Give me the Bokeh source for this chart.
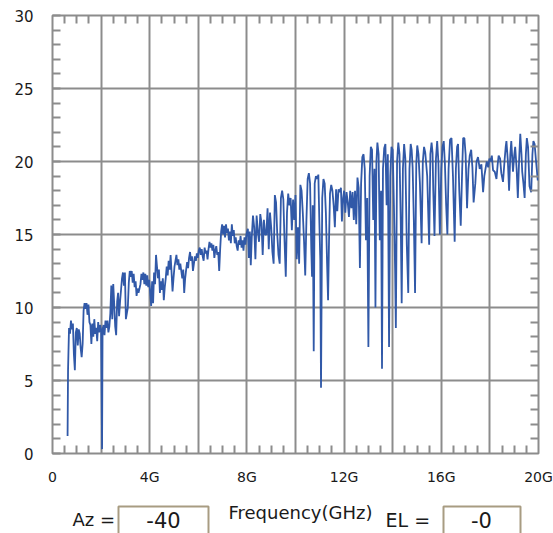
from bokeh.plotting import figure
from bokeh.models import Range1d, SingleIntervalTicker, FixedTicker, LinearAxis
from bokeh.layouts import column
from bokeh.embed import file_html
from bokeh.resources import INLINE
from bokeh.core.properties import value

# ---------------- data ----------------
freq_a = [0.62, 0.64, 0.68, 0.72, 0.76, 0.80, 0.84, 0.88, 0.92, 0.96, 1.00, 1.04, 1.08,
          1.12, 1.16, 1.20, 1.24, 1.28, 1.32, 1.36, 1.40, 1.44, 1.48, 1.52, 1.56, 1.60,
          1.64, 1.68, 1.72, 1.76, 1.80, 1.84, 1.88, 1.92, 1.96, 2.00, 2.04]
gain_a = [1.2, 5.7, 8.6, 8.2, 9.1, 8.5, 8.9, 6.8, 5.7, 8.3, 8.6, 7.4, 8.5,
          8.2, 7.2, 6.6, 7.5, 9.8, 10.3, 9.9, 10.3, 9.5, 10.2, 9.0, 8.8, 7.5,
          8.9, 8.0, 9.2, 8.2, 8.6, 7.7, 9.0, 8.3, 8.8, 8.4, 0.3]

freq_b = [2.06, 2.10, 2.14, 2.18, 2.22, 2.26, 2.30, 2.34, 2.38, 2.42, 2.46, 2.50, 2.54,
          2.58, 2.62, 2.66, 2.70, 2.74, 2.78, 2.82, 2.86, 2.90, 2.94, 2.98, 3.02, 3.06,
          3.10, 3.14, 3.18, 3.22, 3.26, 3.30, 3.34, 3.38, 3.42, 3.46, 3.50, 3.54, 3.58,
          3.62, 3.66, 3.70, 3.74, 3.78, 3.82, 3.86, 3.90, 3.94, 3.98]
gain_b = [8.5, 8.8, 8.1, 9.1, 8.6, 9.1, 8.3, 8.7, 9.6, 11.5, 9.2, 11.6, 10.2,
          8.7, 8.1, 10.4, 11.0, 9.4, 10.4, 11.2, 12.0, 12.4, 11.5, 12.4, 9.2, 9.6,
          10.0, 11.7, 12.5, 12.1, 12.5, 11.7, 12.3, 11.4, 11.8, 10.8, 11.3, 11.0, 11.3,
          11.6, 12.3, 11.9, 12.4, 11.6, 12.3, 11.5, 12.2, 11.4, 11.9]

freq_c = [4.02, 4.06, 4.10, 4.14, 4.18, 4.22, 4.26, 4.30, 4.34, 4.38, 4.42, 4.46, 4.50,
          4.54, 4.58, 4.62, 4.66, 4.70, 4.74, 4.78, 4.82, 4.86, 4.90, 4.94, 4.98, 5.02,
          5.06, 5.10, 5.14, 5.18, 5.22, 5.26, 5.30, 5.34, 5.38, 5.42, 5.46, 5.50, 5.54,
          5.58, 5.62, 5.66, 5.70, 5.74, 5.78, 5.82, 5.86, 5.90, 5.94, 5.98, 6.02, 6.06,
          6.10, 6.14, 6.18, 6.22, 6.26, 6.30, 6.34, 6.38, 6.42, 6.46, 6.50, 6.54, 6.58,
          6.62, 6.66, 6.70, 6.74, 6.78, 6.82, 6.86, 6.90, 6.94, 6.98]
gain_c = [11.0, 10.1, 11.8, 10.3, 12.4, 11.6, 13.6, 12.8, 12.0, 12.6, 11.0, 11.8, 11.2,
          12.0, 10.5, 11.4, 12.0, 12.8, 12.2, 13.2, 12.6, 13.6, 12.4, 11.1, 12.0, 12.8,
          13.2, 13.6, 12.9, 13.3, 12.6, 13.0, 12.5, 12.0, 12.6, 11.0, 12.0, 12.6, 13.1,
          12.7, 13.4, 13.8, 13.2, 13.5, 12.5, 13.0, 13.5, 13.2, 13.7, 13.4, 13.9, 14.1,
          13.6, 14.0, 13.5, 13.2, 14.1, 13.7, 13.9, 13.3, 14.0, 14.5, 14.1, 14.4, 13.9,
          14.3, 13.4, 13.9, 14.2, 13.6, 13.8, 12.5, 14.0, 15.2, 15.7]

freq_d = [7.02, 7.06, 7.10, 7.14, 7.18, 7.22, 7.26, 7.30, 7.34, 7.38, 7.42, 7.46, 7.50,
          7.54, 7.58, 7.62, 7.66, 7.70, 7.74, 7.78, 7.82, 7.86, 7.90, 7.94, 7.98]
gain_d = [15.0, 15.6, 14.8, 15.7, 15.1, 15.4, 14.6, 15.2, 14.4, 15.7, 14.9, 15.3, 14.4,
          14.8, 14.2, 13.9, 14.6, 14.3, 14.9, 14.1, 14.6, 13.9, 14.8, 14.3, 15.0]

freq_e = [8.04, 8.08, 8.12, 8.16, 8.20, 8.25, 8.30, 8.35, 8.40, 8.45, 8.50, 8.55, 8.60,
          8.65, 8.70, 8.75, 8.80, 8.85, 8.90, 8.95, 9.00, 9.05, 9.10, 9.15, 9.20, 9.25,
          9.30, 9.35, 9.40, 9.45, 9.50, 9.55, 9.60, 9.65, 9.70, 9.75, 9.80, 9.85, 9.90,
          9.95, 10.00, 10.05, 10.10, 10.15, 10.20, 10.25, 10.30, 10.35, 10.40, 10.45,
          10.50, 10.55, 10.60, 10.65, 10.68, 10.71, 10.75, 10.79, 10.84, 10.89, 10.94,
          10.98, 11.02, 11.05]
gain_e = [15.4, 13.4, 15.2, 12.9, 14.8, 16.3, 15.5, 13.3, 16.3, 15.2, 14.5, 16.4, 15.8,
          13.6, 16.0, 15.0, 15.0, 16.8, 14.0, 16.5, 15.5, 13.8, 13.0, 17.7, 17.2, 15.0,
          13.6, 13.0, 17.5, 18.0, 17.4, 14.5, 12.1, 16.5, 17.8, 17.0, 17.5, 15.3, 17.4,
          16.0, 17.7, 13.3, 15.5, 13.0, 18.4, 18.0, 16.5, 14.6, 12.2, 16.0,
          18.8, 19.2, 18.5, 14.0, 12.1, 17.0, 7.0, 18.5, 19.0, 18.8, 19.1,
          16.0, 13.3, 4.5]

freq_f = [11.10, 11.15, 11.20, 11.25, 11.30, 11.34, 11.38, 11.42, 11.47, 11.52, 11.57,
          11.62, 11.67, 11.72, 11.77, 11.82, 11.87, 11.91, 11.96, 12.00, 12.05, 12.10,
          12.15, 12.20, 12.25, 12.30, 12.35, 12.40, 12.45, 12.50, 12.55, 12.60, 12.65,
          12.70, 12.75, 12.80, 12.85, 12.90, 12.95, 13.00]
gain_f = [17.5, 18.8, 18.5, 16.5, 13.0, 10.5, 14.6, 17.8, 18.4, 18.0, 17.0,
          15.5, 18.1, 16.6, 18.1, 17.9, 18.2, 15.9, 17.5, 18.0, 16.5, 17.9,
          17.2, 16.2, 18.0, 16.8, 17.9, 16.0, 18.0, 15.7, 18.9, 18.2, 12.7,
          18.5, 20.3, 20.5, 19.5, 14.6, 17.5, 7.3]

freq_g = [13.05, 13.10, 13.15, 13.20, 13.25, 13.29, 13.33, 13.37, 13.42, 13.47, 13.52,
          13.56, 13.60, 13.65, 13.70, 13.75, 13.80, 13.85, 13.90, 13.95, 14.00, 14.05,
          14.10, 14.13, 14.18, 14.23, 14.28, 14.33, 14.37, 14.42, 14.47, 14.52, 14.58,
          14.64, 14.69, 14.74, 14.78, 14.82, 14.87, 14.92, 14.97, 15.01, 15.06, 15.12,
          15.19, 15.24, 15.29, 15.34, 15.42, 15.50, 15.55, 15.60, 15.64, 15.67, 15.72,
          15.78, 15.83, 15.88, 15.94, 16.00, 16.05, 16.10, 16.15, 16.20, 16.25, 16.30,
          16.36, 16.42, 16.48, 16.55, 16.60, 16.65, 16.69, 16.74, 16.80, 16.86, 16.90,
          16.95, 17.00]
gain_g = [19.0, 21.0, 20.8, 16.0, 19.5, 10.0, 20.0, 21.3, 20.5, 14.6, 18.0,
          5.8, 19.5, 20.9, 21.2, 17.0, 20.5, 7.3, 19.0, 21.0, 20.8, 17.0,
          12.5, 8.6, 20.0, 21.3, 20.5, 16.0, 10.3, 19.5, 21.2, 20.2, 14.3,
          11.0, 19.5, 21.2, 20.8, 19.6, 16.0, 11.0, 19.8, 21.1, 20.5, 18.5,
          14.4, 20.0, 21.0, 20.6, 19.0, 14.3, 20.5, 21.3, 20.6, 18.0, 14.9,
          20.2, 21.4, 20.0, 15.0, 19.5, 21.0, 21.4, 19.8, 17.0, 15.0, 19.5,
          21.5, 21.6, 19.0, 14.5, 19.5, 21.0, 21.2, 18.0, 15.6, 19.5, 21.6,
          21.6, 20.5]

freq_h = [17.06, 17.12, 17.17, 17.23, 17.28, 17.33, 17.40, 17.45, 17.51, 17.58, 17.65,
          17.72, 17.77, 17.81, 17.87, 17.93, 17.98, 18.02, 18.08, 18.13, 18.20, 18.27,
          18.32, 18.36, 18.42, 18.47, 18.54, 18.60, 18.65, 18.68, 18.74, 18.79, 18.84,
          18.88, 18.95, 19.00, 19.04, 19.10, 19.15, 19.20, 19.25, 19.30, 19.33, 19.38,
          19.43, 19.48, 19.52, 19.57, 19.63, 19.70, 19.75, 19.79, 19.84, 19.90, 19.97]
gain_h = [16.8, 19.5, 20.4, 20.8, 19.6, 17.2, 18.5, 20.0, 20.3, 19.5, 19.8,
          17.9, 19.0, 19.4, 20.0, 19.6, 20.2, 20.0, 20.4, 19.4, 19.3, 18.8,
          19.8, 20.4, 20.2, 19.2, 18.6, 20.0, 21.0, 21.4, 20.0, 18.0, 20.5,
          21.4, 19.3, 20.4, 21.0, 19.5, 17.5, 20.0, 21.9, 20.5, 19.3, 18.5,
          17.5, 20.5, 21.6, 21.0, 18.3, 17.9, 20.5, 21.4, 21.2, 20.0, 18.7]

freq_ghz = freq_a + freq_b + freq_c + freq_d + freq_e + freq_f + freq_g + freq_h
gain_db = gain_a + gain_b + gain_c + gain_d + gain_e + gain_f + gain_g + gain_h
assert len(freq_ghz) == len(gain_db)

x_tick_values = [0, 4, 8, 12, 16, 20]
x_tick_labels = ["0", "4G", "8G", "12G", "16G", "20G"]
x_minor_ticks = [0.5 * i for i in range(1, 40) if i % 4 != 0]
y_minor_ticks = [i for i in range(1, 30) if i % 5 != 0]

control_labels = ["Az =", "Frequency(GHz)", "EL ="]
control_values = ["-40", "-0"]

# ---------------- styling ----------------
GRID = "#8c8c8c"
LINE = "#3159a8"
TXT = "#1a1a1a"
FONT = "DejaVu Sans"

p = figure(width=553, height=496, x_range=Range1d(0, 20), y_range=Range1d(0, 30),
           output_backend="svg", toolbar_location=None,
           min_border_left=52, min_border_right=15, min_border_top=15, min_border_bottom=43,
           background_fill_color="white", border_fill_color="white")
p.outline_line_color = GRID
p.outline_line_width = 2

p.xaxis.ticker = FixedTicker(ticks=x_tick_values, minor_ticks=x_minor_ticks)
p.xaxis.major_label_overrides = dict(zip(x_tick_values, x_tick_labels))
p.yaxis.ticker = SingleIntervalTicker(interval=5, num_minor_ticks=5)
p.xgrid.ticker = SingleIntervalTicker(interval=2)
p.xgrid.grid_line_color = GRID
p.xgrid.grid_line_width = 2
p.ygrid.grid_line_color = GRID
p.ygrid.grid_line_width = 2


def style_axis(ax, size="14px", standoff=15):
    ax.axis_line_color = None
    ax.major_tick_in = 0
    ax.major_tick_out = 0
    ax.minor_tick_in = 8
    ax.minor_tick_out = 0
    ax.minor_tick_line_color = GRID
    ax.minor_tick_line_width = 2
    ax.major_label_text_font = FONT
    ax.major_label_text_font_size = size
    ax.major_label_text_color = TXT
    ax.major_label_standoff = standoff


style_axis(p.yaxis[0], "15px", 19)
style_axis(p.xaxis[0], "14px", 15)

ax_r = LinearAxis(ticker=FixedTicker(ticks=[], minor_ticks=y_minor_ticks))
style_axis(ax_r, "14px", 0)
p.add_layout(ax_r, "right")
ax_t = LinearAxis(ticker=FixedTicker(ticks=[], minor_ticks=x_minor_ticks))
style_axis(ax_t, "14px", 0)
p.add_layout(ax_t, "above")

p.line(freq_ghz, gain_db, line_color=LINE, line_width=1.8)

# ---------------- bottom control row ----------------
c = figure(width=553, height=37, x_range=Range1d(0, 553), y_range=Range1d(37, 0),
           output_backend="svg", toolbar_location=None, min_border=0,
           x_axis_type=None, y_axis_type=None,
           background_fill_color="white", border_fill_color="white")
if "frame_align" in c.properties():
    c.frame_align = False
c.outline_line_color = None
c.grid.visible = False

c.quad(left=[118, 443], right=[208, 520], top=[10, 10], bottom=[50, 50],
       fill_color="white", line_color="#a89c82", line_width=2)
c.text(x=[72, 228], y=[23, 16], text=control_labels[:2],
       text_font=value(FONT), text_font_size="18px", text_color=TXT,
       text_baseline="middle", text_align="left")
c.text(x=[385], y=[23], text=control_labels[2:],
       text_font=value(FONT), text_font_size="19px", text_color=TXT,
       text_baseline="middle", text_align="left")
c.text(x=[163, 481], y=[23, 23], text=control_values,
       text_font=value(FONT), text_font_size="21px", text_color=TXT,
       text_baseline="middle", text_align="center")

layout = column(p, c, spacing=0)
open("out.html", "w").write(file_html(layout, INLINE))
